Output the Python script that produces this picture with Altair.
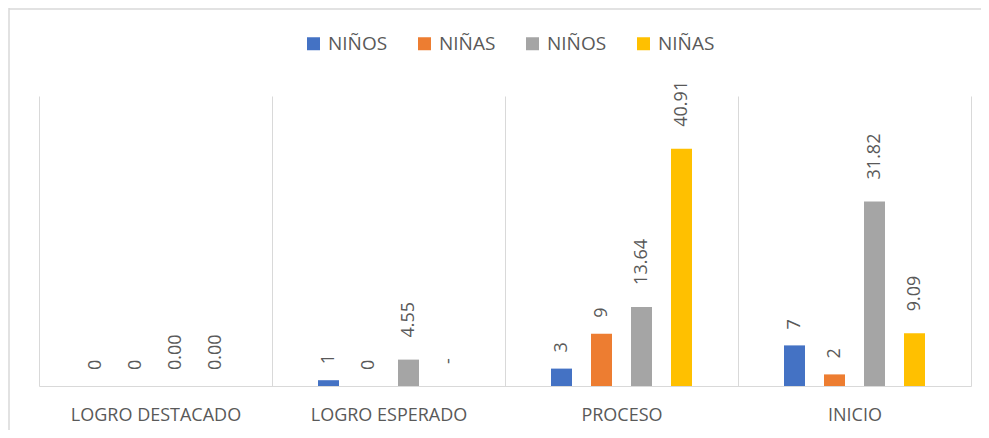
import altair as alt
import pandas as pd

categories = ["LOGRO DESTACADO", "LOGRO ESPERADO", "PROCESO", "INICIO"]
series_keys = ["s1", "s2", "s3", "s4"]
series_names = ["NIÑOS", "NIÑAS", "NIÑOS", "NIÑAS"]
series_colors = ["#4472C4", "#ED7D31", "#A5A5A5", "#FFC000"]

ninos_a = [0, 1, 3, 7]
ninas_a = [0, 0, 9, 2]
ninos_b = [0.00, 4.55, 13.64, 31.82]
ninas_b = [0.00, None, 40.91, 9.09]

rows = []
for key, vals, decimals in zip(series_keys, [ninos_a, ninas_a, ninos_b, ninas_b], [False, False, True, True]):
    for cat, v in zip(categories, vals):
        if v is None:
            label = "-"
        elif decimals:
            label = f"{v:.2f}"
        else:
            label = str(int(v))
        rows.append({"cat": cat, "key": key, "value": v, "label": label,
                     "dec": decimals})
df = pd.DataFrame(rows)

W, H = 932, 290
FONT = "Open Sans"
GRAY = "#595959"
LINE = "#d9d9d9"

label_expr = "{" + ",".join(f"'{k}':'{n}'" for k, n in zip(series_keys, series_names)) + "}[datum.label]"

x_enc = alt.X("cat:N", sort=categories,
              scale=alt.Scale(paddingInner=0, paddingOuter=0),
              axis=alt.Axis(title=None, labelAngle=0, ticks=False, domainColor=LINE,
                            grid=True, gridColor=LINE, tickBand="extent",
                            labelFont=FONT, labelFontSize=18, labelColor=GRAY,
                            labelPadding=20))
xo_enc = alt.XOffset("key:N", sort=series_keys,
                     scale=alt.Scale(range=[46, 187], paddingInner=0.475, paddingOuter=0))
y_scale = alt.Scale(domain=[0, 50])

base = alt.Chart(df)

bars = base.mark_bar().encode(
    x=x_enc, xOffset=xo_enc,
    y=alt.Y("value:Q", scale=y_scale, axis=None),
    color=alt.Color("key:N", sort=series_keys,
                    scale=alt.Scale(domain=series_keys, range=series_colors),
                    legend=alt.Legend(title=None, orient="none", legendX=265, legendY=-62,
                                      direction="horizontal", columns=4,
                                      symbolType="square", symbolSize=169,
                                      symbolStrokeWidth=0, labelFont=FONT,
                                      labelFontSize=19, labelColor=GRAY,
                                      columnPadding=27, labelOffset=5,
                                      labelExpr=label_expr)),
)

text_base = base.transform_calculate(
    ypos="datum.value == null ? 0 : datum.value"
).encode(
    x=x_enc, xOffset=xo_enc,
    y=alt.Y("ypos:Q", scale=y_scale, axis=None),
    text="label:N",
)

short_labels = text_base.transform_filter(
    "!datum.dec || datum.value == 0"
).mark_text(angle=270, align="left", baseline="middle", dx=16,
            font=FONT, fontSize=18, color=GRAY)

long_labels = text_base.transform_filter(
    "datum.dec && datum.value != 0"
).mark_text(angle=270, align="left", baseline="middle", dx=22,
            font=FONT, fontSize=18, color=GRAY)

frame_data = alt.Data(values=[{}])
frame_left = alt.Chart(frame_data).mark_rule(color=LINE, strokeWidth=1.5).encode(
    x=alt.value(-30), y=alt.value(-88), y2=alt.value(H + 44))
frame_top = alt.Chart(frame_data).mark_rule(color=LINE, strokeWidth=1.5).encode(
    x=alt.value(-30), x2=alt.value(W + 10), y=alt.value(-87))

chart = alt.layer(frame_left, frame_top, bars, short_labels, long_labels).properties(
    width=W, height=H,
    autosize=alt.AutoSizeParams(type="none"),
    padding={"left": 31, "top": 88, "right": 10, "bottom": 44},
).configure_view(stroke=None)

chart.save("out.html", embed_options={"renderer": "svg", "actions": False})
